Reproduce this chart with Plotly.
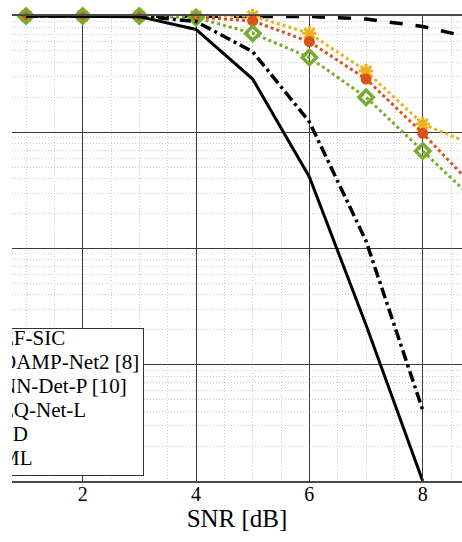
import plotly.graph_objects as go

# ---------------- data ----------------
snr = [1, 2, 3, 4, 5, 6, 7, 8, 9]
snr_short = [1, 2, 3, 4, 5, 6, 7, 8]

names = ["EF-SIC", "OAMP-Net2 [8]", "NN-Det-P [10]", "EQ-Net-L", "SD", "ML"]

ef_sic = [1.0, 1.0, 1.0, 1.0, 1.0, 0.990, 0.942, 0.812, 0.628]
oamp_net2 = [1.0, 1.0, 1.0, 1.0, 1.0, 0.710, 0.336, 0.118, 0.0741]
nn_det_p = [1.0, 1.0, 1.0, 0.98, 0.906, 0.601, 0.287, 0.098, 0.0303]
eq_net_l = [1.0, 1.0, 1.0, 0.97, 0.710, 0.440, 0.200, 0.069, 0.0237]
sd = [1.0, 1.0, 1.0, 0.897, 0.493, 0.123, 0.0116, 4.08e-4]
ml = [1.0, 1.0, 0.987, 0.766, 0.287, 0.0412, 0.0022, 1.0e-4]

x_ticks = [2, 4, 6, 8]

# ---------------- styles ----------------
YEL = "#EDB120"
RED = "#D95319"
GRN = "#77AC30"
SERIF = "Liberation Serif"

fig = go.Figure()

fig.add_trace(go.Scatter(x=snr, y=ef_sic, name=names[0], mode="lines",
                         line=dict(color="black", width=3.5, dash="13px,13px"),
                         cliponaxis=False))
fig.add_trace(go.Scatter(x=snr, y=oamp_net2, name=names[1], mode="lines+markers",
                         line=dict(color=YEL, width=3, dash="3px,3px"),
                         marker=dict(symbol="asterisk-open", size=12,
                                     line=dict(color=YEL, width=3)),
                         cliponaxis=False))
fig.add_trace(go.Scatter(x=snr, y=nn_det_p, name=names[2], mode="lines+markers",
                         line=dict(color=RED, width=3, dash="3px,3px"),
                         marker=dict(symbol="circle", size=11, color=RED),
                         cliponaxis=False))
fig.add_trace(go.Scatter(x=snr, y=eq_net_l, name=names[3], mode="lines+markers",
                         line=dict(color=GRN, width=3, dash="3px,3px"),
                         marker=dict(symbol="diamond-open", size=11,
                                     line=dict(color=GRN, width=3.5)),
                         cliponaxis=False))
fig.add_trace(go.Scatter(x=snr_short, y=sd, name=names[4], mode="lines",
                         line=dict(color="black", width=3.5, dash="11px,4px,3px,4px"),
                         cliponaxis=False))
fig.add_trace(go.Scatter(x=snr_short, y=ml, name=names[5], mode="lines",
                         line=dict(color="black", width=3),
                         cliponaxis=False))

# ---------------- legend (cropped box, text clipped at the left edge) ----------------
W_PLOT = 450.0
H_PLOT = 465.0
box_left, box_right, box_top, box_bottom = 12, 143, 329, 475
leg_rows = [11 + 24 * i for i in range(len(names))]
leg_x = [-11] * len(names)
fig.add_trace(go.Scatter(x=leg_x, y=leg_rows, text=names, mode="text",
                         textposition="middle right",
                         textfont=dict(family=SERIF, size=21, color="black"),
                         xaxis="x2", yaxis="y2", cliponaxis=True,
                         hoverinfo="skip", showlegend=False))

grid_major = "#3a3a3a"
grid_minor = "#cdcdcd"

fig.update_layout(
    width=462, height=542,
    margin=dict(l=12, r=0, t=16, b=61, autoexpand=False),
    paper_bgcolor="white", plot_bgcolor="white",
    showlegend=False,
    font=dict(family=SERIF, color="black"),
    xaxis=dict(
        range=[0.753, 8.693], tickvals=x_ticks,
        ticks="inside", ticklen=5, tickwidth=1, tickcolor=grid_major,
        showgrid=True, gridcolor=grid_major, gridwidth=1,
        minor=dict(dtick=0.5, showgrid=True, gridcolor=grid_minor,
                   griddash="1px,2px", gridwidth=1),
        zeroline=False, showline=True, mirror=True,
        linecolor="#4a4a4a", linewidth=2,
        tickfont=dict(family=SERIF, size=20, color="black"),
        ticklabelstandoff=-6,
        title=dict(text="SNR [dB]", font=dict(family=SERIF, size=25, color="black"),
                   standoff=4),
    ),
    yaxis=dict(
        type="log", range=[-4, 0], dtick=1, showticklabels=False, ticks="",
        showgrid=True, gridcolor=grid_major, gridwidth=1,
        minor=dict(dtick="D1", showgrid=True, gridcolor=grid_minor,
                   griddash="1px,2px", gridwidth=1),
        zeroline=False, showline=False,
    ),
    xaxis2=dict(
        domain=[0, (box_right - box_left) / W_PLOT], range=[0, box_right - box_left],
        anchor="y2", showgrid=False, zeroline=False, showticklabels=False, ticks="",
        showline=True, mirror=True, linecolor="#333333", linewidth=1,
    ),
    yaxis2=dict(
        domain=[(481 - box_bottom) / H_PLOT, (481 - box_top) / H_PLOT],
        range=[box_bottom - box_top, 0], anchor="x2", side="right",
        showgrid=False, zeroline=False, showticklabels=False, ticks="",
        showline=True, linecolor="#333333", linewidth=1,
    ),
)

fig.write_html("out.html")
